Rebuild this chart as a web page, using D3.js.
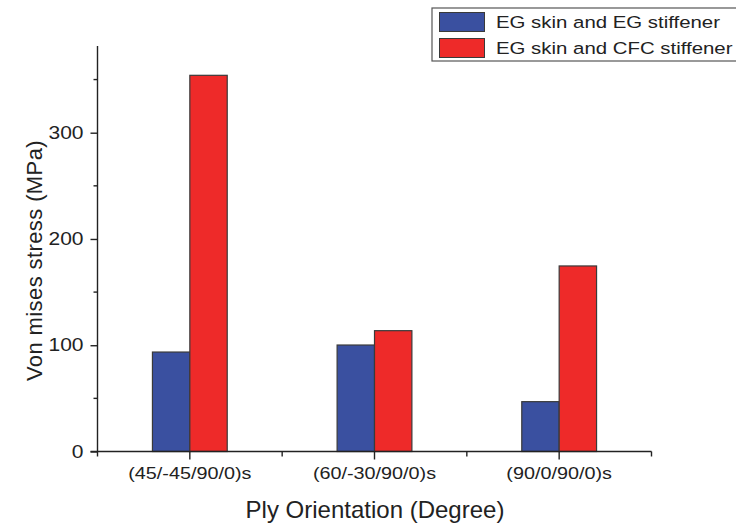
<!DOCTYPE html>
<html>
<head>
<meta charset="utf-8">
<script src="https://cdn.jsdelivr.net/npm/d3@7"></script>
<style>
  body { margin: 0; background: #fff; }
  svg { display: block; font-family: "Liberation Sans", Arial, sans-serif; }
</style>
</head>
<body>
<svg id="chart" width="736" height="524"></svg>
<script>
// Ply orientations and von Mises stress for each stiffener material
const categories = ["(45/-45/90/0)s", "(60/-30/90/0)s", "(90/0/90/0)s"];
const seriesNames = ["EG skin and EG stiffener", "EG skin and CFC stiffener"];
const egStiffener = [93.6, 100.2, 46.9];
const cfcStiffener = [354, 113.7, 174.6];
const yTicks = [0, 100, 200, 300];
const yMinorTicks = [50, 150, 250, 350];
const colors = ["#3a50a0", "#ee2a29"];

const svg = d3.select("#chart");
const x0 = 97.5, x1 = 651.5;
const yBase = 451.5, yTop = 46;
const stretch = 1.2; // wide glyphs for labels

const x = d3.scaleBand().domain(categories).range([x0, x1]);
const groupW = x.bandwidth() * 0.405;
const xs = d3.scaleBand().domain([0, 1]).range([0, groupW]);
const y = d3.scaleLinear().domain([0, 300]).range([yBase, 132.7]);

const series = [egStiffener, cfcStiffener];
const g = svg.append("g");

series.forEach((vals, si) => {
  g.selectAll(null).data(vals).enter().append("rect")
    .attr("x", (d, i) => x(categories[i]) + (x.bandwidth() - groupW) / 2 + xs(si))
    .attr("y", d => y(d))
    .attr("width", xs.bandwidth())
    .attr("height", d => y(0) - y(d))
    .attr("fill", colors[si])
    .attr("stroke", "#3a3a3a")
    .attr("stroke-width", 1.2);
});

const tickFont = "Liberation Sans, Arial, sans-serif";

// Y axis
const yAxis = d3.axisLeft(y).tickValues(yTicks).tickSize(7).tickPadding(7).tickFormat(d3.format("d"));
const ya = svg.append("g").attr("transform", `translate(${x0},0)`).call(yAxis);
ya.select(".domain").attr("d", `M0,${yTop}V${yBase}`);
ya.selectAll(null).data(yMinorTicks).enter().append("line")
  .attr("x1", 0).attr("x2", -4).attr("y1", d => y(d)).attr("y2", d => y(d));
ya.selectAll(".tick text")
  .attr("x", null)
  .attr("transform", `translate(-14,0) scale(${stretch},1)`)
  .attr("font-size", 17.5)
  .attr("fill", "#222").attr("font-family", tickFont);
ya.selectAll("path, line").attr("stroke", "#222").attr("stroke-width", 1.4);

// X axis
const xAxis = d3.axisBottom(x).tickSize(8).tickPadding(8);
const xa = svg.append("g").attr("transform", `translate(0,${yBase})`).call(xAxis);
xa.select(".domain").attr("d", `M${x0 - 7},0H${x1}`);
xa.selectAll(null).data(d3.range(4).map(k => x0 + k * x.bandwidth())).enter().append("line")
  .attr("x1", d => d).attr("x2", d => d).attr("y1", 0).attr("y2", 5);
xa.selectAll(".tick text")
  .attr("transform", `scale(${stretch},1)`)
  .attr("font-size", 16.5)
  .attr("fill", "#222").attr("font-family", tickFont);
xa.selectAll("path, line").attr("stroke", "#222").attr("stroke-width", 1.4);

// Axis titles
svg.append("text")
  .attr("transform", `translate(42,260.5) rotate(-90)`)
  .attr("text-anchor", "middle").attr("font-size", 22).attr("letter-spacing", 0.4)
  .attr("fill", "#222")
  .text("Von mises stress (MPa)");
svg.append("text")
  .attr("x", 375).attr("y", 518)
  .attr("text-anchor", "middle").attr("font-size", 24).attr("fill", "#222")
  .text("Ply Orientation (Degree)");

// Legend
const lg = svg.append("g");
lg.append("rect").attr("x", 432).attr("y", 8).attr("width", 320).attr("height", 53)
  .attr("fill", "#fff").attr("stroke", "#555").attr("stroke-width", 1.2);
seriesNames.forEach((name, i) => {
  lg.append("rect").attr("x", 439.5).attr("y", 12.5 + i * 26).attr("width", 45).attr("height", 19)
    .attr("fill", colors[i]).attr("stroke", "#3a3a3a");
  lg.append("text")
    .attr("transform", `translate(496,${28 + i * 26}) scale(${stretch},1)`)
    .attr("font-size", 17).attr("fill", "#222").text(name);
});
</script>
</body>
</html>
